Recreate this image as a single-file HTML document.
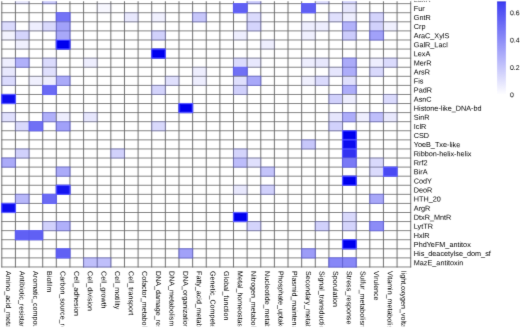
<!DOCTYPE html><html><head><meta charset="utf-8"><style>html,body{margin:0;padding:0;background:#fff;width:520px;height:328px;overflow:hidden}svg{display:block}text{font-family:"Liberation Sans",sans-serif;fill:#000;text-rendering:geometricPrecision}</style></head><body>
<svg width="520" height="328" viewBox="0 0 520 328">
<defs><filter id="bl" x="-5" y="-5" width="540" height="345" filterUnits="userSpaceOnUse"><feConvolveMatrix order="3" kernelMatrix="0.00770 0.05460 0.00770 0.09460 0.67080 0.09460 0.00770 0.05460 0.00770" edgeMode="duplicate" preserveAlpha="false"/></filter><linearGradient id="lg" x1="0" y1="1" x2="0" y2="0"><stop offset="0" stop-color="#ffffff"/><stop offset="1" stop-color="#3d3df2"/></linearGradient></defs><rect width="520" height="328" fill="#fff"/><g filter="url(#bl)">
<rect x="15.43" y="-5.42" width="13.63" height="9.08" fill="#e6e6fd"/>
<rect x="42.69" y="-5.42" width="13.63" height="9.08" fill="#ccccfc"/>
<rect x="247.14" y="-5.42" width="13.63" height="9.08" fill="#c7c7fb"/>
<rect x="315.29" y="-5.42" width="13.63" height="9.08" fill="#dbdbfd"/>
<rect x="342.55" y="-5.42" width="13.63" height="9.08" fill="#d1d1fc"/>
<rect x="97.21" y="3.66" width="13.63" height="9.08" fill="#f7f7fe"/>
<rect x="233.51" y="3.66" width="13.63" height="9.08" fill="#6161f4"/>
<rect x="301.66" y="3.66" width="13.63" height="9.08" fill="#6161f4"/>
<rect x="342.55" y="3.66" width="13.63" height="9.08" fill="#e6e6fd"/>
<rect x="56.32" y="12.74" width="13.63" height="9.08" fill="#7373f6"/>
<rect x="124.47" y="12.74" width="13.63" height="9.08" fill="#e8e8fd"/>
<rect x="151.73" y="12.74" width="13.63" height="9.08" fill="#f0f0fe"/>
<rect x="192.62" y="12.74" width="13.63" height="9.08" fill="#c7c7fb"/>
<rect x="247.14" y="12.74" width="13.63" height="9.08" fill="#dbdbfd"/>
<rect x="328.92" y="12.74" width="13.63" height="9.08" fill="#e0e0fd"/>
<rect x="342.55" y="12.74" width="13.63" height="9.08" fill="#eeeefe"/>
<rect x="369.81" y="12.74" width="13.63" height="9.08" fill="#d4d4fc"/>
<rect x="1.80" y="21.82" width="13.63" height="9.08" fill="#dbdbfd"/>
<rect x="29.06" y="21.82" width="13.63" height="9.08" fill="#eeeefe"/>
<rect x="42.69" y="21.82" width="13.63" height="9.08" fill="#d9d9fc"/>
<rect x="56.32" y="21.82" width="13.63" height="9.08" fill="#a1a1f9"/>
<rect x="247.14" y="21.82" width="13.63" height="9.08" fill="#d4d4fc"/>
<rect x="301.66" y="21.82" width="13.63" height="9.08" fill="#eeeefe"/>
<rect x="315.29" y="21.82" width="13.63" height="9.08" fill="#eeeefe"/>
<rect x="342.55" y="21.82" width="13.63" height="9.08" fill="#b2b2fa"/>
<rect x="369.81" y="21.82" width="13.63" height="9.08" fill="#d1d1fc"/>
<rect x="383.44" y="21.82" width="13.63" height="9.08" fill="#f0f0fe"/>
<rect x="1.80" y="30.90" width="13.63" height="9.08" fill="#f2f2fe"/>
<rect x="15.43" y="30.90" width="13.63" height="9.08" fill="#d4d4fc"/>
<rect x="56.32" y="30.90" width="13.63" height="9.08" fill="#a8a8f9"/>
<rect x="151.73" y="30.90" width="13.63" height="9.08" fill="#d1d1fc"/>
<rect x="233.51" y="30.90" width="13.63" height="9.08" fill="#eeeefe"/>
<rect x="301.66" y="30.90" width="13.63" height="9.08" fill="#f0f0fe"/>
<rect x="342.55" y="30.90" width="13.63" height="9.08" fill="#ccccfc"/>
<rect x="369.81" y="30.90" width="13.63" height="9.08" fill="#a1a1f9"/>
<rect x="15.43" y="39.98" width="13.63" height="9.08" fill="#f0f0fe"/>
<rect x="56.32" y="39.98" width="13.63" height="9.08" fill="#0000ee"/>
<rect x="260.77" y="39.98" width="13.63" height="9.08" fill="#eeeefe"/>
<rect x="151.73" y="49.06" width="13.63" height="9.08" fill="#0000ee"/>
<rect x="1.80" y="58.14" width="13.63" height="9.08" fill="#eeeefe"/>
<rect x="15.43" y="58.14" width="13.63" height="9.08" fill="#b0b0fa"/>
<rect x="42.69" y="58.14" width="13.63" height="9.08" fill="#dbdbfd"/>
<rect x="83.58" y="58.14" width="13.63" height="9.08" fill="#eeeefe"/>
<rect x="233.51" y="58.14" width="13.63" height="9.08" fill="#dbdbfd"/>
<rect x="247.14" y="58.14" width="13.63" height="9.08" fill="#e8e8fd"/>
<rect x="301.66" y="58.14" width="13.63" height="9.08" fill="#eeeefe"/>
<rect x="315.29" y="58.14" width="13.63" height="9.08" fill="#e8e8fd"/>
<rect x="342.55" y="58.14" width="13.63" height="9.08" fill="#ababf9"/>
<rect x="369.81" y="58.14" width="13.63" height="9.08" fill="#eeeefe"/>
<rect x="383.44" y="58.14" width="13.63" height="9.08" fill="#dbdbfd"/>
<rect x="1.80" y="67.22" width="13.63" height="9.08" fill="#e8e8fd"/>
<rect x="42.69" y="67.22" width="13.63" height="9.08" fill="#e0e0fd"/>
<rect x="192.62" y="67.22" width="13.63" height="9.08" fill="#eeeefe"/>
<rect x="233.51" y="67.22" width="13.63" height="9.08" fill="#7070f5"/>
<rect x="328.92" y="67.22" width="13.63" height="9.08" fill="#e6e6fd"/>
<rect x="342.55" y="67.22" width="13.63" height="9.08" fill="#adadfa"/>
<rect x="369.81" y="67.22" width="13.63" height="9.08" fill="#d9d9fc"/>
<rect x="1.80" y="76.30" width="13.63" height="9.08" fill="#dbdbfd"/>
<rect x="29.06" y="76.30" width="13.63" height="9.08" fill="#f0f0fe"/>
<rect x="42.69" y="76.30" width="13.63" height="9.08" fill="#eeeefe"/>
<rect x="56.32" y="76.30" width="13.63" height="9.08" fill="#ababf9"/>
<rect x="165.36" y="76.30" width="13.63" height="9.08" fill="#e0e0fd"/>
<rect x="192.62" y="76.30" width="13.63" height="9.08" fill="#eeeefe"/>
<rect x="233.51" y="76.30" width="13.63" height="9.08" fill="#e0e0fd"/>
<rect x="247.14" y="76.30" width="13.63" height="9.08" fill="#a8a8f9"/>
<rect x="301.66" y="76.30" width="13.63" height="9.08" fill="#f0f0fe"/>
<rect x="315.29" y="76.30" width="13.63" height="9.08" fill="#dbdbfd"/>
<rect x="342.55" y="76.30" width="13.63" height="9.08" fill="#e0e0fd"/>
<rect x="42.69" y="85.38" width="13.63" height="9.08" fill="#6b6bf5"/>
<rect x="151.73" y="85.38" width="13.63" height="9.08" fill="#d4d4fc"/>
<rect x="233.51" y="85.38" width="13.63" height="9.08" fill="#d1d1fc"/>
<rect x="342.55" y="85.38" width="13.63" height="9.08" fill="#adadfa"/>
<rect x="1.80" y="94.46" width="13.63" height="9.08" fill="#0808ef"/>
<rect x="328.92" y="94.46" width="13.63" height="9.08" fill="#d1d1fc"/>
<rect x="342.55" y="94.46" width="13.63" height="9.08" fill="#eeeefe"/>
<rect x="383.44" y="94.46" width="13.63" height="9.08" fill="#dbdbfd"/>
<rect x="178.99" y="103.54" width="13.63" height="9.08" fill="#0000ee"/>
<rect x="1.80" y="112.62" width="13.63" height="9.08" fill="#e0e0fd"/>
<rect x="42.69" y="112.62" width="13.63" height="9.08" fill="#b0b0fa"/>
<rect x="56.32" y="112.62" width="13.63" height="9.08" fill="#eeeefe"/>
<rect x="83.58" y="112.62" width="13.63" height="9.08" fill="#e6e6fd"/>
<rect x="328.92" y="112.62" width="13.63" height="9.08" fill="#e6e6fd"/>
<rect x="342.55" y="112.62" width="13.63" height="9.08" fill="#adadfa"/>
<rect x="356.18" y="112.62" width="13.63" height="9.08" fill="#eeeefe"/>
<rect x="369.81" y="112.62" width="13.63" height="9.08" fill="#bfbffb"/>
<rect x="383.44" y="112.62" width="13.63" height="9.08" fill="#e8e8fd"/>
<rect x="15.43" y="121.70" width="13.63" height="9.08" fill="#d9d9fc"/>
<rect x="29.06" y="121.70" width="13.63" height="9.08" fill="#7070f5"/>
<rect x="56.32" y="121.70" width="13.63" height="9.08" fill="#a1a1f9"/>
<rect x="151.73" y="121.70" width="13.63" height="9.08" fill="#d9d9fc"/>
<rect x="328.92" y="121.70" width="13.63" height="9.08" fill="#d1d1fc"/>
<rect x="342.55" y="130.78" width="13.63" height="9.08" fill="#0000ee"/>
<rect x="301.66" y="139.86" width="13.63" height="9.08" fill="#c7c7fb"/>
<rect x="342.55" y="139.86" width="13.63" height="9.08" fill="#0f0fef"/>
<rect x="15.43" y="148.94" width="13.63" height="9.08" fill="#d1d1fc"/>
<rect x="110.84" y="148.94" width="13.63" height="9.08" fill="#d1d1fc"/>
<rect x="233.51" y="148.94" width="13.63" height="9.08" fill="#d4d4fc"/>
<rect x="342.55" y="148.94" width="13.63" height="9.08" fill="#3030f1"/>
<rect x="1.80" y="158.02" width="13.63" height="9.08" fill="#ababf9"/>
<rect x="233.51" y="158.02" width="13.63" height="9.08" fill="#bdbdfb"/>
<rect x="247.14" y="158.02" width="13.63" height="9.08" fill="#e0e0fd"/>
<rect x="342.55" y="158.02" width="13.63" height="9.08" fill="#7a7af6"/>
<rect x="369.81" y="158.02" width="13.63" height="9.08" fill="#d9d9fc"/>
<rect x="56.32" y="167.10" width="13.63" height="9.08" fill="#ababf9"/>
<rect x="260.77" y="167.10" width="13.63" height="9.08" fill="#c4c4fb"/>
<rect x="369.81" y="167.10" width="13.63" height="9.08" fill="#dbdbfd"/>
<rect x="383.44" y="167.10" width="13.63" height="9.08" fill="#4a4af3"/>
<rect x="342.55" y="176.18" width="13.63" height="9.08" fill="#0000ee"/>
<rect x="56.32" y="185.26" width="13.63" height="9.08" fill="#1919f0"/>
<rect x="233.51" y="185.26" width="13.63" height="9.08" fill="#e8e8fd"/>
<rect x="260.77" y="185.26" width="13.63" height="9.08" fill="#d1d1fc"/>
<rect x="15.43" y="194.34" width="13.63" height="9.08" fill="#b8b8fa"/>
<rect x="42.69" y="194.34" width="13.63" height="9.08" fill="#6b6bf5"/>
<rect x="369.81" y="194.34" width="13.63" height="9.08" fill="#a8a8f9"/>
<rect x="1.80" y="203.42" width="13.63" height="9.08" fill="#0d0def"/>
<rect x="233.51" y="212.50" width="13.63" height="9.08" fill="#0000ee"/>
<rect x="342.55" y="212.50" width="13.63" height="9.08" fill="#d9d9fc"/>
<rect x="42.69" y="221.58" width="13.63" height="9.08" fill="#d1d1fc"/>
<rect x="56.32" y="221.58" width="13.63" height="9.08" fill="#b0b0fa"/>
<rect x="247.14" y="221.58" width="13.63" height="9.08" fill="#d4d4fc"/>
<rect x="315.29" y="221.58" width="13.63" height="9.08" fill="#d1d1fc"/>
<rect x="342.55" y="221.58" width="13.63" height="9.08" fill="#d4d4fc"/>
<rect x="369.81" y="221.58" width="13.63" height="9.08" fill="#8c8cf7"/>
<rect x="15.43" y="230.66" width="13.63" height="9.08" fill="#6161f4"/>
<rect x="29.06" y="230.66" width="13.63" height="9.08" fill="#6161f4"/>
<rect x="342.55" y="239.74" width="13.63" height="9.08" fill="#0000ee"/>
<rect x="56.32" y="248.82" width="13.63" height="9.08" fill="#6161f4"/>
<rect x="178.99" y="248.82" width="13.63" height="9.08" fill="#a1a1f9"/>
<rect x="301.66" y="248.82" width="13.63" height="9.08" fill="#9c9cf8"/>
<rect x="83.58" y="257.90" width="13.63" height="9.08" fill="#bfbffb"/>
<rect x="97.21" y="257.90" width="13.63" height="9.08" fill="#bfbffb"/>
<rect x="328.92" y="257.90" width="13.63" height="9.08" fill="#8787f7"/>
<rect x="342.55" y="257.90" width="13.63" height="9.08" fill="#8787f7"/>
<path d="M1.33 -5.42H411.18M1.33 3.66H411.18M1.33 12.74H411.18M1.33 21.82H411.18M1.33 30.90H411.18M1.33 39.98H411.18M1.33 49.06H411.18M1.33 58.14H411.18M1.33 67.22H411.18M1.33 76.30H411.18M1.33 85.38H411.18M1.33 94.46H411.18M1.33 103.54H411.18M1.33 112.62H411.18M1.33 121.70H411.18M1.33 130.78H411.18M1.33 139.86H411.18M1.33 148.94H411.18M1.33 158.02H411.18M1.33 167.10H411.18M1.33 176.18H411.18M1.33 185.26H411.18M1.33 194.34H411.18M1.33 203.42H411.18M1.33 212.50H411.18M1.33 221.58H411.18M1.33 230.66H411.18M1.33 239.74H411.18M1.33 248.82H411.18M1.33 257.90H411.18M1.33 266.98H411.18" stroke="#7a7a7a" stroke-width="0.90" fill="none"/>
<path d="M1.80 -5.42V267.43M15.43 -5.42V267.43M29.06 -5.42V267.43M42.69 -5.42V267.43M56.32 -5.42V267.43M69.95 -5.42V267.43M83.58 -5.42V267.43M97.21 -5.42V267.43M110.84 -5.42V267.43M124.47 -5.42V267.43M138.10 -5.42V267.43M151.73 -5.42V267.43M165.36 -5.42V267.43M178.99 -5.42V267.43M192.62 -5.42V267.43M206.25 -5.42V267.43M219.88 -5.42V267.43M233.51 -5.42V267.43M247.14 -5.42V267.43M260.77 -5.42V267.43M274.40 -5.42V267.43M288.03 -5.42V267.43M301.66 -5.42V267.43M315.29 -5.42V267.43M328.92 -5.42V267.43M342.55 -5.42V267.43M356.18 -5.42V267.43M369.81 -5.42V267.43M383.44 -5.42V267.43M397.07 -5.42V267.43M410.70 -5.42V267.43" stroke="#686868" stroke-width="0.95" fill="none"/>
<g style="mix-blend-mode:color">
<rect x="14.83" y="-6.02" width="14.83" height="10.28" fill="#e6e6fd"/>
<rect x="42.09" y="-6.02" width="14.83" height="10.28" fill="#ccccfc"/>
<rect x="246.54" y="-6.02" width="14.83" height="10.28" fill="#c7c7fb"/>
<rect x="314.69" y="-6.02" width="14.83" height="10.28" fill="#dbdbfd"/>
<rect x="341.95" y="-6.02" width="14.83" height="10.28" fill="#d1d1fc"/>
<rect x="96.61" y="3.06" width="14.83" height="10.28" fill="#f7f7fe"/>
<rect x="232.91" y="3.06" width="14.83" height="10.28" fill="#6161f4"/>
<rect x="301.06" y="3.06" width="14.83" height="10.28" fill="#6161f4"/>
<rect x="341.95" y="3.06" width="14.83" height="10.28" fill="#e6e6fd"/>
<rect x="55.72" y="12.14" width="14.83" height="10.28" fill="#7373f6"/>
<rect x="123.87" y="12.14" width="14.83" height="10.28" fill="#e8e8fd"/>
<rect x="151.13" y="12.14" width="14.83" height="10.28" fill="#f0f0fe"/>
<rect x="192.02" y="12.14" width="14.83" height="10.28" fill="#c7c7fb"/>
<rect x="246.54" y="12.14" width="14.83" height="10.28" fill="#dbdbfd"/>
<rect x="328.32" y="12.14" width="14.83" height="10.28" fill="#e0e0fd"/>
<rect x="341.95" y="12.14" width="14.83" height="10.28" fill="#eeeefe"/>
<rect x="369.21" y="12.14" width="14.83" height="10.28" fill="#d4d4fc"/>
<rect x="1.20" y="21.22" width="14.83" height="10.28" fill="#dbdbfd"/>
<rect x="28.46" y="21.22" width="14.83" height="10.28" fill="#eeeefe"/>
<rect x="42.09" y="21.22" width="14.83" height="10.28" fill="#d9d9fc"/>
<rect x="55.72" y="21.22" width="14.83" height="10.28" fill="#a1a1f9"/>
<rect x="246.54" y="21.22" width="14.83" height="10.28" fill="#d4d4fc"/>
<rect x="301.06" y="21.22" width="14.83" height="10.28" fill="#eeeefe"/>
<rect x="314.69" y="21.22" width="14.83" height="10.28" fill="#eeeefe"/>
<rect x="341.95" y="21.22" width="14.83" height="10.28" fill="#b2b2fa"/>
<rect x="369.21" y="21.22" width="14.83" height="10.28" fill="#d1d1fc"/>
<rect x="382.84" y="21.22" width="14.83" height="10.28" fill="#f0f0fe"/>
<rect x="1.20" y="30.30" width="14.83" height="10.28" fill="#f2f2fe"/>
<rect x="14.83" y="30.30" width="14.83" height="10.28" fill="#d4d4fc"/>
<rect x="55.72" y="30.30" width="14.83" height="10.28" fill="#a8a8f9"/>
<rect x="151.13" y="30.30" width="14.83" height="10.28" fill="#d1d1fc"/>
<rect x="232.91" y="30.30" width="14.83" height="10.28" fill="#eeeefe"/>
<rect x="301.06" y="30.30" width="14.83" height="10.28" fill="#f0f0fe"/>
<rect x="341.95" y="30.30" width="14.83" height="10.28" fill="#ccccfc"/>
<rect x="369.21" y="30.30" width="14.83" height="10.28" fill="#a1a1f9"/>
<rect x="14.83" y="39.38" width="14.83" height="10.28" fill="#f0f0fe"/>
<rect x="55.72" y="39.38" width="14.83" height="10.28" fill="#0000ee"/>
<rect x="260.17" y="39.38" width="14.83" height="10.28" fill="#eeeefe"/>
<rect x="151.13" y="48.46" width="14.83" height="10.28" fill="#0000ee"/>
<rect x="1.20" y="57.54" width="14.83" height="10.28" fill="#eeeefe"/>
<rect x="14.83" y="57.54" width="14.83" height="10.28" fill="#b0b0fa"/>
<rect x="42.09" y="57.54" width="14.83" height="10.28" fill="#dbdbfd"/>
<rect x="82.98" y="57.54" width="14.83" height="10.28" fill="#eeeefe"/>
<rect x="232.91" y="57.54" width="14.83" height="10.28" fill="#dbdbfd"/>
<rect x="246.54" y="57.54" width="14.83" height="10.28" fill="#e8e8fd"/>
<rect x="301.06" y="57.54" width="14.83" height="10.28" fill="#eeeefe"/>
<rect x="314.69" y="57.54" width="14.83" height="10.28" fill="#e8e8fd"/>
<rect x="341.95" y="57.54" width="14.83" height="10.28" fill="#ababf9"/>
<rect x="369.21" y="57.54" width="14.83" height="10.28" fill="#eeeefe"/>
<rect x="382.84" y="57.54" width="14.83" height="10.28" fill="#dbdbfd"/>
<rect x="1.20" y="66.62" width="14.83" height="10.28" fill="#e8e8fd"/>
<rect x="42.09" y="66.62" width="14.83" height="10.28" fill="#e0e0fd"/>
<rect x="192.02" y="66.62" width="14.83" height="10.28" fill="#eeeefe"/>
<rect x="232.91" y="66.62" width="14.83" height="10.28" fill="#7070f5"/>
<rect x="328.32" y="66.62" width="14.83" height="10.28" fill="#e6e6fd"/>
<rect x="341.95" y="66.62" width="14.83" height="10.28" fill="#adadfa"/>
<rect x="369.21" y="66.62" width="14.83" height="10.28" fill="#d9d9fc"/>
<rect x="1.20" y="75.70" width="14.83" height="10.28" fill="#dbdbfd"/>
<rect x="28.46" y="75.70" width="14.83" height="10.28" fill="#f0f0fe"/>
<rect x="42.09" y="75.70" width="14.83" height="10.28" fill="#eeeefe"/>
<rect x="55.72" y="75.70" width="14.83" height="10.28" fill="#ababf9"/>
<rect x="164.76" y="75.70" width="14.83" height="10.28" fill="#e0e0fd"/>
<rect x="192.02" y="75.70" width="14.83" height="10.28" fill="#eeeefe"/>
<rect x="232.91" y="75.70" width="14.83" height="10.28" fill="#e0e0fd"/>
<rect x="246.54" y="75.70" width="14.83" height="10.28" fill="#a8a8f9"/>
<rect x="301.06" y="75.70" width="14.83" height="10.28" fill="#f0f0fe"/>
<rect x="314.69" y="75.70" width="14.83" height="10.28" fill="#dbdbfd"/>
<rect x="341.95" y="75.70" width="14.83" height="10.28" fill="#e0e0fd"/>
<rect x="42.09" y="84.78" width="14.83" height="10.28" fill="#6b6bf5"/>
<rect x="151.13" y="84.78" width="14.83" height="10.28" fill="#d4d4fc"/>
<rect x="232.91" y="84.78" width="14.83" height="10.28" fill="#d1d1fc"/>
<rect x="341.95" y="84.78" width="14.83" height="10.28" fill="#adadfa"/>
<rect x="1.20" y="93.86" width="14.83" height="10.28" fill="#0808ef"/>
<rect x="328.32" y="93.86" width="14.83" height="10.28" fill="#d1d1fc"/>
<rect x="341.95" y="93.86" width="14.83" height="10.28" fill="#eeeefe"/>
<rect x="382.84" y="93.86" width="14.83" height="10.28" fill="#dbdbfd"/>
<rect x="178.39" y="102.94" width="14.83" height="10.28" fill="#0000ee"/>
<rect x="1.20" y="112.02" width="14.83" height="10.28" fill="#e0e0fd"/>
<rect x="42.09" y="112.02" width="14.83" height="10.28" fill="#b0b0fa"/>
<rect x="55.72" y="112.02" width="14.83" height="10.28" fill="#eeeefe"/>
<rect x="82.98" y="112.02" width="14.83" height="10.28" fill="#e6e6fd"/>
<rect x="328.32" y="112.02" width="14.83" height="10.28" fill="#e6e6fd"/>
<rect x="341.95" y="112.02" width="14.83" height="10.28" fill="#adadfa"/>
<rect x="355.58" y="112.02" width="14.83" height="10.28" fill="#eeeefe"/>
<rect x="369.21" y="112.02" width="14.83" height="10.28" fill="#bfbffb"/>
<rect x="382.84" y="112.02" width="14.83" height="10.28" fill="#e8e8fd"/>
<rect x="14.83" y="121.10" width="14.83" height="10.28" fill="#d9d9fc"/>
<rect x="28.46" y="121.10" width="14.83" height="10.28" fill="#7070f5"/>
<rect x="55.72" y="121.10" width="14.83" height="10.28" fill="#a1a1f9"/>
<rect x="151.13" y="121.10" width="14.83" height="10.28" fill="#d9d9fc"/>
<rect x="328.32" y="121.10" width="14.83" height="10.28" fill="#d1d1fc"/>
<rect x="341.95" y="130.18" width="14.83" height="10.28" fill="#0000ee"/>
<rect x="301.06" y="139.26" width="14.83" height="10.28" fill="#c7c7fb"/>
<rect x="341.95" y="139.26" width="14.83" height="10.28" fill="#0f0fef"/>
<rect x="14.83" y="148.34" width="14.83" height="10.28" fill="#d1d1fc"/>
<rect x="110.24" y="148.34" width="14.83" height="10.28" fill="#d1d1fc"/>
<rect x="232.91" y="148.34" width="14.83" height="10.28" fill="#d4d4fc"/>
<rect x="341.95" y="148.34" width="14.83" height="10.28" fill="#3030f1"/>
<rect x="1.20" y="157.42" width="14.83" height="10.28" fill="#ababf9"/>
<rect x="232.91" y="157.42" width="14.83" height="10.28" fill="#bdbdfb"/>
<rect x="246.54" y="157.42" width="14.83" height="10.28" fill="#e0e0fd"/>
<rect x="341.95" y="157.42" width="14.83" height="10.28" fill="#7a7af6"/>
<rect x="369.21" y="157.42" width="14.83" height="10.28" fill="#d9d9fc"/>
<rect x="55.72" y="166.50" width="14.83" height="10.28" fill="#ababf9"/>
<rect x="260.17" y="166.50" width="14.83" height="10.28" fill="#c4c4fb"/>
<rect x="369.21" y="166.50" width="14.83" height="10.28" fill="#dbdbfd"/>
<rect x="382.84" y="166.50" width="14.83" height="10.28" fill="#4a4af3"/>
<rect x="341.95" y="175.58" width="14.83" height="10.28" fill="#0000ee"/>
<rect x="55.72" y="184.66" width="14.83" height="10.28" fill="#1919f0"/>
<rect x="232.91" y="184.66" width="14.83" height="10.28" fill="#e8e8fd"/>
<rect x="260.17" y="184.66" width="14.83" height="10.28" fill="#d1d1fc"/>
<rect x="14.83" y="193.74" width="14.83" height="10.28" fill="#b8b8fa"/>
<rect x="42.09" y="193.74" width="14.83" height="10.28" fill="#6b6bf5"/>
<rect x="369.21" y="193.74" width="14.83" height="10.28" fill="#a8a8f9"/>
<rect x="1.20" y="202.82" width="14.83" height="10.28" fill="#0d0def"/>
<rect x="232.91" y="211.90" width="14.83" height="10.28" fill="#0000ee"/>
<rect x="341.95" y="211.90" width="14.83" height="10.28" fill="#d9d9fc"/>
<rect x="42.09" y="220.98" width="14.83" height="10.28" fill="#d1d1fc"/>
<rect x="55.72" y="220.98" width="14.83" height="10.28" fill="#b0b0fa"/>
<rect x="246.54" y="220.98" width="14.83" height="10.28" fill="#d4d4fc"/>
<rect x="314.69" y="220.98" width="14.83" height="10.28" fill="#d1d1fc"/>
<rect x="341.95" y="220.98" width="14.83" height="10.28" fill="#d4d4fc"/>
<rect x="369.21" y="220.98" width="14.83" height="10.28" fill="#8c8cf7"/>
<rect x="14.83" y="230.06" width="14.83" height="10.28" fill="#6161f4"/>
<rect x="28.46" y="230.06" width="14.83" height="10.28" fill="#6161f4"/>
<rect x="341.95" y="239.14" width="14.83" height="10.28" fill="#0000ee"/>
<rect x="55.72" y="248.22" width="14.83" height="10.28" fill="#6161f4"/>
<rect x="178.39" y="248.22" width="14.83" height="10.28" fill="#a1a1f9"/>
<rect x="301.06" y="248.22" width="14.83" height="10.28" fill="#9c9cf8"/>
<rect x="82.98" y="257.30" width="14.83" height="10.28" fill="#bfbffb"/>
<rect x="96.61" y="257.30" width="14.83" height="10.28" fill="#bfbffb"/>
<rect x="328.32" y="257.30" width="14.83" height="10.28" fill="#8787f7"/>
<rect x="341.95" y="257.30" width="14.83" height="10.28" fill="#8787f7"/>
</g>
<text x="413.8" y="-0.48" font-size="7.25" dominant-baseline="central" transform="rotate(0.05 413.8 -0.48)">LuxR</text>
<text x="413.8" y="8.40" font-size="7.25" dominant-baseline="central" transform="rotate(0.05 413.8 8.40)">Fur</text>
<text x="413.8" y="17.48" font-size="7.25" dominant-baseline="central" transform="rotate(0.05 413.8 17.48)">GntR</text>
<text x="413.8" y="26.56" font-size="7.25" dominant-baseline="central" transform="rotate(0.05 413.8 26.56)">Crp</text>
<text x="413.8" y="35.64" font-size="7.25" dominant-baseline="central" transform="rotate(0.05 413.8 35.64)">AraC_XylS</text>
<text x="413.8" y="44.72" font-size="7.25" dominant-baseline="central" transform="rotate(0.05 413.8 44.72)">GalR_LacI</text>
<text x="413.8" y="53.80" font-size="7.25" dominant-baseline="central" transform="rotate(0.05 413.8 53.80)">LexA</text>
<text x="413.8" y="62.88" font-size="7.25" dominant-baseline="central" transform="rotate(0.05 413.8 62.88)">MerR</text>
<text x="413.8" y="71.96" font-size="7.25" dominant-baseline="central" transform="rotate(0.05 413.8 71.96)">ArsR</text>
<text x="413.8" y="81.04" font-size="7.25" dominant-baseline="central" transform="rotate(0.05 413.8 81.04)">Fis</text>
<text x="413.8" y="90.12" font-size="7.25" dominant-baseline="central" transform="rotate(0.05 413.8 90.12)">PadR</text>
<text x="413.8" y="99.20" font-size="7.25" dominant-baseline="central" transform="rotate(0.05 413.8 99.20)">AsnC</text>
<text x="413.8" y="108.28" font-size="7.25" dominant-baseline="central" transform="rotate(0.05 413.8 108.28)">Histone-like_DNA-bd</text>
<text x="413.8" y="117.36" font-size="7.25" dominant-baseline="central" transform="rotate(0.05 413.8 117.36)">SinR</text>
<text x="413.8" y="126.44" font-size="7.25" dominant-baseline="central" transform="rotate(0.05 413.8 126.44)">IclR</text>
<text x="413.8" y="135.52" font-size="7.25" dominant-baseline="central" transform="rotate(0.05 413.8 135.52)">CSD</text>
<text x="413.8" y="144.60" font-size="7.25" dominant-baseline="central" transform="rotate(0.05 413.8 144.60)">YoeB_Txe-like</text>
<text x="413.8" y="153.68" font-size="7.25" dominant-baseline="central" transform="rotate(0.05 413.8 153.68)">Ribbon-helix-helix</text>
<text x="413.8" y="162.76" font-size="7.25" dominant-baseline="central" transform="rotate(0.05 413.8 162.76)">Rrf2</text>
<text x="413.8" y="171.84" font-size="7.25" dominant-baseline="central" transform="rotate(0.05 413.8 171.84)">BirA</text>
<text x="413.8" y="180.92" font-size="7.25" dominant-baseline="central" transform="rotate(0.05 413.8 180.92)">CodY</text>
<text x="413.8" y="190.00" font-size="7.25" dominant-baseline="central" transform="rotate(0.05 413.8 190.00)">DeoR</text>
<text x="413.8" y="199.08" font-size="7.25" dominant-baseline="central" transform="rotate(0.05 413.8 199.08)">HTH_20</text>
<text x="413.8" y="208.16" font-size="7.25" dominant-baseline="central" transform="rotate(0.05 413.8 208.16)">ArgR</text>
<text x="413.8" y="217.24" font-size="7.25" dominant-baseline="central" transform="rotate(0.05 413.8 217.24)">DtxR_MntR</text>
<text x="413.8" y="226.32" font-size="7.25" dominant-baseline="central" transform="rotate(0.05 413.8 226.32)">LytTR</text>
<text x="413.8" y="235.40" font-size="7.25" dominant-baseline="central" transform="rotate(0.05 413.8 235.40)">HxlR</text>
<text x="413.8" y="244.48" font-size="7.25" dominant-baseline="central" transform="rotate(0.05 413.8 244.48)">PhdYeFM_antitox</text>
<text x="413.8" y="253.56" font-size="7.25" dominant-baseline="central" transform="rotate(0.05 413.8 253.56)">His_deacetylse_dom_sf</text>
<text x="413.8" y="262.64" font-size="7.25" dominant-baseline="central" transform="rotate(0.05 413.8 262.64)">MazE_antitoxin</text>
<text transform="translate(8.02,271.10) rotate(90.05)" font-size="7.10" dominant-baseline="central">Amino_acid_metabolism</text>
<text transform="translate(21.64,271.10) rotate(90.05)" font-size="7.10" dominant-baseline="central">Antibiotic_resistance</text>
<text transform="translate(35.27,271.10) rotate(90.05)" font-size="7.10" dominant-baseline="central">Aromatic_compound</text>
<text transform="translate(48.90,271.10) rotate(90.05)" font-size="7.10" dominant-baseline="central">Biofilm</text>
<text transform="translate(62.53,271.10) rotate(90.05)" font-size="7.10" dominant-baseline="central">Carbon_source_regulation</text>
<text transform="translate(76.17,271.10) rotate(90.05)" font-size="7.10" dominant-baseline="central">Cell_adhesion</text>
<text transform="translate(89.80,271.10) rotate(90.05)" font-size="7.10" dominant-baseline="central">Cell_division</text>
<text transform="translate(103.43,271.10) rotate(90.05)" font-size="7.10" dominant-baseline="central">Cell_growth</text>
<text transform="translate(117.06,271.10) rotate(90.05)" font-size="7.10" dominant-baseline="central">Cell_motility</text>
<text transform="translate(130.69,271.10) rotate(90.05)" font-size="7.10" dominant-baseline="central">Cell_transport</text>
<text transform="translate(144.32,271.10) rotate(90.05)" font-size="7.10" dominant-baseline="central">Cofactor_metabolism</text>
<text transform="translate(157.95,271.10) rotate(90.05)" font-size="7.10" dominant-baseline="central">DNA_damage_response</text>
<text transform="translate(171.58,271.10) rotate(90.05)" font-size="7.10" dominant-baseline="central">DNA_metabolism</text>
<text transform="translate(185.21,271.10) rotate(90.05)" font-size="7.10" dominant-baseline="central">DNA_organization</text>
<text transform="translate(198.84,271.10) rotate(90.05)" font-size="7.10" dominant-baseline="central">Fatty_acid_metabolism</text>
<text transform="translate(212.47,271.10) rotate(90.05)" font-size="7.10" dominant-baseline="central">Genetic_Competence</text>
<text transform="translate(226.10,271.10) rotate(90.05)" font-size="7.10" dominant-baseline="central">Global_function</text>
<text transform="translate(239.73,271.10) rotate(90.05)" font-size="7.10" dominant-baseline="central">Metal_homeostasis</text>
<text transform="translate(253.36,271.10) rotate(90.05)" font-size="7.10" dominant-baseline="central">Nitrogen_metabolism</text>
<text transform="translate(266.99,271.10) rotate(90.05)" font-size="7.10" dominant-baseline="central">Nucleotide_metabolism</text>
<text transform="translate(280.62,271.10) rotate(90.05)" font-size="7.10" dominant-baseline="central">Phosphate_uptake</text>
<text transform="translate(294.25,271.10) rotate(90.05)" font-size="7.10" dominant-baseline="central">Plasmid_maintenance</text>
<text transform="translate(307.88,271.10) rotate(90.05)" font-size="7.10" dominant-baseline="central">Secondary_metabolism</text>
<text transform="translate(321.50,271.10) rotate(90.05)" font-size="7.10" dominant-baseline="central">Signal_transduction</text>
<text transform="translate(335.13,271.10) rotate(90.05)" font-size="7.10" dominant-baseline="central">Sporulation</text>
<text transform="translate(348.76,271.10) rotate(90.05)" font-size="7.10" dominant-baseline="central">Stress_response</text>
<text transform="translate(362.39,271.10) rotate(90.05)" font-size="7.10" dominant-baseline="central">Sulfur_metabolism</text>
<text transform="translate(376.03,271.10) rotate(90.05)" font-size="7.10" dominant-baseline="central">Virulence</text>
<text transform="translate(389.66,271.10) rotate(90.05)" font-size="7.10" dominant-baseline="central">Vitamin_metabolism</text>
<text transform="translate(403.29,271.10) rotate(90.05)" font-size="7.10" dominant-baseline="central">light,oxygen_voltage</text>
<rect x="497.1" y="1.7" width="8.8" height="93.2" fill="url(#lg)"/>
<rect x="497.1" y="1.6" width="8.8" height="0.6" fill="#2a2ad0"/>
<text x="509.95" y="13.68" font-size="6.95" dominant-baseline="central" transform="rotate(0.05 509.95 13.68)">0.6</text>
<text x="509.95" y="41.08" font-size="6.95" dominant-baseline="central" transform="rotate(0.05 509.95 41.08)">0.4</text>
<text x="509.95" y="68.53" font-size="6.95" dominant-baseline="central" transform="rotate(0.05 509.95 68.53)">0.2</text>
<text x="509.95" y="95.73" font-size="6.95" dominant-baseline="central" transform="rotate(0.05 509.95 95.73)">0</text>
<rect x="0" y="0" width="411.5" height="1.2" fill="#fff"/>
<rect x="411.5" y="0" width="80" height="0.9" fill="#fff"/>
<rect x="0" y="326.3" width="520" height="3" fill="#fff"/>
</g></svg></body></html>
